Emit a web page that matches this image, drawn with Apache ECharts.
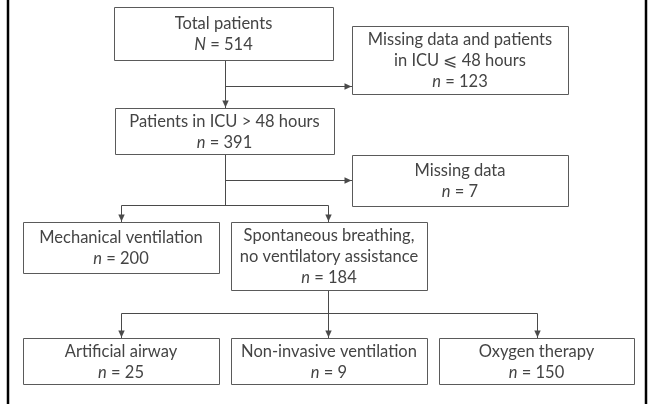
<!DOCTYPE html>
<html>
<head>
<meta charset="utf-8">
<script src="https://cdn.jsdelivr.net/npm/echarts@6/dist/echarts.min.js"></script>
<style>
  html, body { margin: 0; padding: 0; background: #fff; }
  #chart { width: 651px; height: 404px; }
</style>
</head>
<body>
<div id="chart"></div>
<script>
'use strict';

// box texts and counts
const boxLabels = [
  'Total patients',
  'Missing data and patients\nin ICU \u2A7D 48 hours',
  'Patients in ICU > 48 hours',
  'Missing data',
  'Mechanical ventilation',
  'Spontaneous breathing,\nno ventilatory assistance',
  'Artificial airway',
  'Non-invasive ventilation',
  'Oxygen therapy'
];
const boxSymbols = ['N', 'n', 'n', 'n', 'n', 'n', 'n', 'n', 'n'];
const boxCounts = [514, 123, 391, 7, 200, 184, 25, 9, 150];

// layout, in page units [x0, y0, x1, y1]
const boxRects = [
  [114, 7, 333, 60],
  [352, 26, 568, 94],
  [115, 108, 334, 154],
  [352, 155, 568, 206],
  [23, 222, 219, 273],
  [231, 222, 427, 290],
  [23, 338, 219, 384],
  [231, 338, 427, 384],
  [439, 338, 634, 384]
];

// connectors: point list + whether the last point gets an arrow
const links = [
  { pts: [[225, 60], [225, 108]], arrow: true },
  { pts: [[225, 86], [352, 86]], arrow: true },
  { pts: [[225, 154], [225, 205]], arrow: false },
  { pts: [[225, 180], [352, 180]], arrow: true },
  { pts: [[121, 205], [328, 205]], arrow: false },
  { pts: [[121, 205], [121, 222]], arrow: true },
  { pts: [[328, 205], [328, 222]], arrow: true },
  { pts: [[328, 290], [328, 338]], arrow: true },
  { pts: [[121, 313], [537, 313]], arrow: false },
  { pts: [[121, 313], [121, 338]], arrow: true },
  { pts: [[537, 313], [537, 338]], arrow: true }
];

// page frame rules at left and right
const frameRules = [
  [[8, 0], [8, 404]],
  [[646, 0], [646, 404]]
];

const FONT = 'Lato, "Open Sans", sans-serif';
const INK = '#4a4a4a';
const TEXT = '#444';

const chart = echarts.init(document.getElementById('chart'), null, { renderer: 'canvas' });

function renderBox(params, api) {
  const p0 = api.coord([api.value(0), api.value(1)]);
  const p1 = api.coord([api.value(2), api.value(3)]);
  const i = params.dataIndex;
  const text = boxLabels[i] + '\n{i|' + boxSymbols[i] + '} = ' + boxCounts[i];
  return {
    type: 'group',
    children: [
      {
        type: 'rect',
        shape: { x: p0[0] + 0.5, y: p0[1] + 0.5, width: p1[0] - p0[0], height: p1[1] - p0[1] },
        style: { fill: '#fff', stroke: '#5a5a5a', lineWidth: 1 }
      },
      {
        type: 'text',
        style: {
          text,
          x: (p0[0] + p1[0]) / 2,
          y: (p0[1] + p1[1]) / 2 + 1,
          align: 'center',
          verticalAlign: 'middle',
          fontFamily: FONT,
          fontSize: 16.5,
          lineHeight: 21,
          fill: TEXT,
          rich: { i: { fontStyle: 'italic', fontFamily: FONT, fontSize: 16.5, lineHeight: 21, fill: TEXT } }
        }
      }
    ]
  };
}

function renderLink(params, api) {
  const link = links[params.dataIndex];
  const pts = link.pts.map((p) => api.coord(p));
  const children = [{
    type: 'polyline',
    shape: { points: pts.map((p) => [Math.round(p[0]) + 0.5, Math.round(p[1]) + 0.5]) },
    style: { stroke: INK, lineWidth: 1, fill: null }
  }];
  if (link.arrow) {
    const a = pts[pts.length - 2];
    const b = pts[pts.length - 1];
    const dx = b[0] - a[0];
    const dy = b[1] - a[1];
    const len = Math.hypot(dx, dy) || 1;
    const ux = dx / len, uy = dy / len;
    const L = 7, W = 3.2;
    const ex = Math.round(b[0]) + 0.5, ey = Math.round(b[1]) + 0.5 - (uy > 0 ? 1 : 0);
    const tx = ex - (ux > 0 ? 1 : 0);
    children.push({
      type: 'polygon',
      shape: {
        points: [
          [tx, ey],
          [tx - ux * L - uy * W, ey - uy * L + ux * W],
          [tx - ux * L + uy * W, ey - uy * L - ux * W]
        ]
      },
      style: { fill: INK }
    });
  }
  return { type: 'group', children };
}

function renderRule(params, api) {
  const r = frameRules[params.dataIndex];
  const a = api.coord(r[0]);
  const b = api.coord(r[1]);
  return {
    type: 'line',
    shape: { x1: a[0], y1: a[1], x2: b[0], y2: b[1] },
    style: { stroke: '#000', lineWidth: 2.5 }
  };
}

chart.setOption({
  animation: false,
  backgroundColor: '#fff',
  grid: { left: 0, right: 0, top: 0, bottom: 0 },
  xAxis: { type: 'value', min: 0, max: 651, show: false },
  yAxis: { type: 'value', min: 0, max: 404, inverse: true, show: false },
  series: [
    {
      type: 'custom',
      renderItem: renderRule,
      data: frameRules.map((r, i) => [r[0][0], r[0][1], i]),
      silent: true
    },
    {
      type: 'custom',
      renderItem: renderLink,
      data: links.map((l) => l.pts[0]),
      silent: true,
      z: 2
    },
    {
      type: 'custom',
      renderItem: renderBox,
      data: boxRects,
      silent: true,
      z: 3
    }
  ]
});
</script>
</body>
</html>
